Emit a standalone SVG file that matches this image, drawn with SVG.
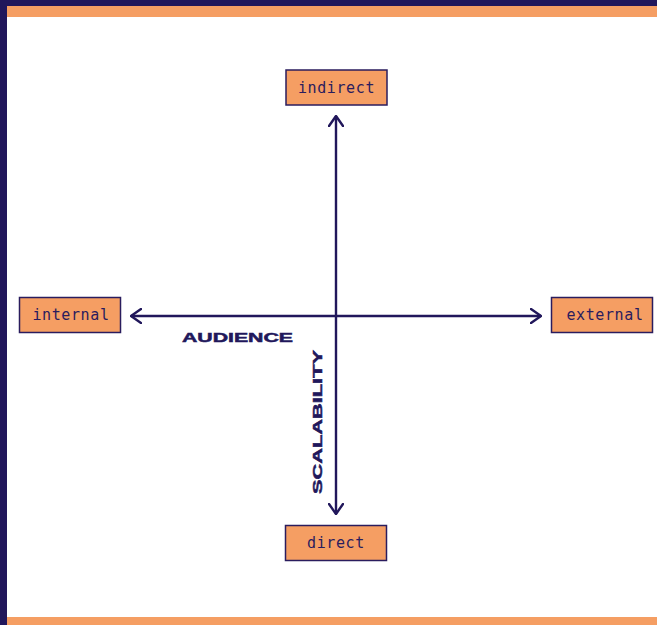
<svg xmlns="http://www.w3.org/2000/svg" width="657" height="625" viewBox="0 0 657 625">
  <defs>
    <style>
      .frame-dark { fill: #21175b; }
      .frame-accent { fill: #f59e63; }
      .box { fill: #f59e63; stroke: #2a1c5e; stroke-width: 1.5; }
      .label { font-family: "DejaVu Sans Mono", "Liberation Mono", monospace; font-size: 15px; letter-spacing: 0.6px; fill: #2a1c5e; text-anchor: middle; }
      .axis { stroke: #21175b; stroke-width: 2.4; fill: none; }
      .axis-title { font-family: "Liberation Sans", Arial, sans-serif; font-weight: bold; font-size: 13.5px; fill: #21175b; stroke: #21175b; stroke-width: 0.5; }
    </style>
    <marker id="chevron" viewBox="0 0 12 16" refX="11" refY="8" markerWidth="12" markerHeight="16" markerUnits="userSpaceOnUse" orient="auto-start-reverse">
      <path d="M1,1 L11,8 L1,15" fill="none" stroke="#21175b" stroke-width="2.4" stroke-linecap="round" stroke-linejoin="round"/>
    </marker>
  </defs>

  <rect width="657" height="625" fill="#ffffff"/>

  <!-- page frame -->
  <rect class="frame-dark" x="0" y="0" width="657" height="6"/>
  <rect class="frame-accent" x="7" y="6" width="650" height="11"/>
  <rect class="frame-accent" x="7" y="617" width="650" height="8"/>
  <rect class="frame-dark" x="0" y="0" width="7" height="625"/>

  <!-- axes -->
  <g id="connectors">
    <line class="axis" x1="131" y1="316" x2="541" y2="316" marker-start="url(#chevron)" marker-end="url(#chevron)"/>
    <line class="axis" x1="336" y1="116" x2="336" y2="514" marker-start="url(#chevron)" marker-end="url(#chevron)"/>
  </g>

  <g id="axis-audience">
    <text class="axis-title" x="182" y="342" textLength="111" lengthAdjust="spacingAndGlyphs">AUDIENCE</text>
  </g>
  <g id="axis-scalability">
    <text class="axis-title" transform="translate(322,494) rotate(-90)" x="0" y="0" textLength="144" lengthAdjust="spacingAndGlyphs">SCALABILITY</text>
  </g>

  <g id="node-indirect">
    <rect class="box" x="286" y="70" width="101" height="35"/>
    <text class="label" x="336.5" y="92.5">indirect</text>
  </g>
  <g id="node-internal">
    <rect class="box" x="19.5" y="297.5" width="101" height="35"/>
    <text class="label" x="71" y="320">internal</text>
  </g>
  <g id="node-external">
    <rect class="box" x="551.5" y="297.5" width="101" height="35"/>
    <text class="label" x="605" y="320">external</text>
  </g>
  <g id="node-direct">
    <rect class="box" x="285.5" y="525.5" width="101" height="35"/>
    <text class="label" x="336" y="548">direct</text>
  </g>
</svg>
